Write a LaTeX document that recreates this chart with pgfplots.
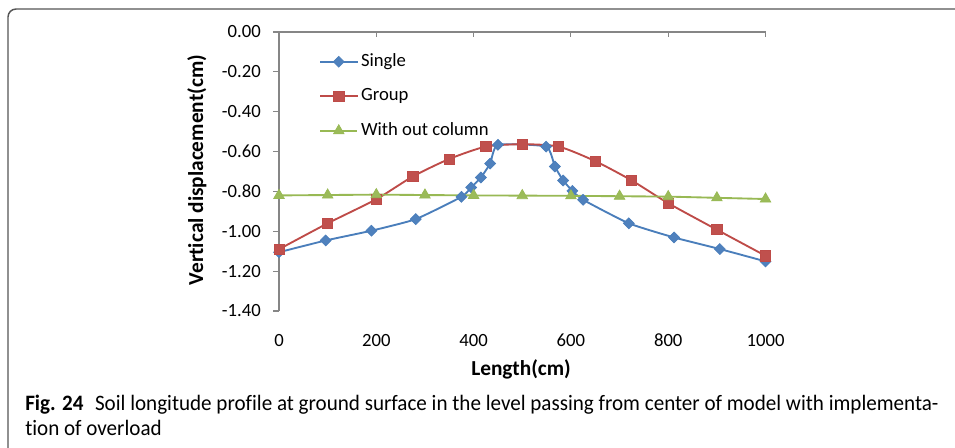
\documentclass[border=0pt]{standalone}
\usepackage{fontspec}
\setmainfont{Carlito}[Ligatures=NoCommon]
\usepackage{graphicx}
\usepackage{pgfplots}
\pgfplotsset{compat=1.18}

\definecolor{sblue}{HTML}{4A7EBB}
\definecolor{sbluef}{HTML}{4F81BD}
\definecolor{gred}{HTML}{BE4B48}
\definecolor{gredf}{HTML}{C0504D}
\definecolor{ngreen}{HTML}{98B954}
\definecolor{ngreenf}{HTML}{9BBB59}
\definecolor{axgray}{HTML}{868686}
\definecolor{framegray}{HTML}{555555}

\newsavebox\capbox
\newlength\capw

\begin{document}
\sbox\capbox{\fontsize{16.5}{20}\selectfont\textbf{Fig. 24}\hspace{0.55em}Soil longitude profile at ground surface in the level passing from center of model with implementa-}%
\setlength\capw{\wd\capbox}%
\pgfmathsetmacro\capfac{685/\capw}%
\begin{tikzpicture}
\begin{scope}[x=0.75pt,y=-0.75pt]
\useasboundingbox (0,0) rectangle (955,447);
% outer frame
\draw[framegray, line width=1.1pt, rounded corners=6pt] (8,470) -- (8,9) -- (980,9);
% caption
\node[anchor=base west, inner sep=0pt] at (25,410)
  {\scalebox{\capfac}[1]{\usebox\capbox}};
\node[anchor=base west, inner sep=0pt] at (25,435)
  {\scalebox{\capfac}[1]{\fontsize{16.5}{20}\selectfont tion of overload}};
\end{scope}

\begin{axis}[
  at={(209.25pt,-233.25pt)}, anchor=south west,
  scale only axis, width=364.9pt, height=209.25pt,
  xmin=0, xmax=1000, ymin=-1.4, ymax=0,
  clip=false,
  axis y line=left, axis x line=bottom,
  axis line style={-, axgray, line width=0.8pt},
  x axis line style={draw=none},
  xtick style={draw=none},
  ytick style={axgray, line width=0.8pt},
  tick align=outside, major tick length=4.5pt,
  xtick={0,200,400,600,800,1000},
  xticklabels={0,200,400,600,800,1000},
  ytick={-1.4,-1.2,-1,-0.8,-0.6,-0.4,-0.2,0},
  yticklabels={-1.40,-1.20,-1.00,-0.80,-0.60,-0.40,-0.20,0.00},
  tick label style={font=\fontsize{14}{16}\selectfont, text=black},
  yticklabel style={inner sep=0pt, anchor=east, xshift=-9pt},
  xticklabel style={inner sep=0pt, anchor=north, yshift=-12.5pt},
  xlabel={Length(cm)},
  ylabel={Vertical displacement(cm)},
  xlabel style={font=\bfseries\fontsize{16}{18}\selectfont, at={(axis description cs:0.4975,-0.211)}, anchor=center},
  ylabel style={font=\bfseries\fontsize{16}{18}\selectfont, at={(axis description cs:-0.1686,0.505)}, anchor=center},
  legend cell align=left,
  legend style={draw=none, fill=none, inner sep=0pt,
    at={(rel axis cs:0.082,0.935)}, anchor=north west,
    font=\fontsize{14}{16}\selectfont, row sep=8.9pt,
    nodes={text height=10pt, text depth=3pt, inner sep=2pt}},
  legend image code/.code={\draw[#1, mark repeat=2, mark phase=2] plot coordinates {(0pt,0pt) (14pt,0pt) (28pt,0pt)};},
  every axis plot/.append style={line width=1.4pt},
]
% top reference line with inward ticks
\draw[axgray, line width=0.8pt] (axis cs:0,0) -- (axis cs:1000,0);
\pgfplotsinvokeforeach{200,400,600,800,1000}{
  \draw[axgray, line width=0.8pt] (axis cs:#1,0) -- ++(0pt,-4pt);
}

\addplot[sblue, smooth, tension=0.3, mark=square*, mark size=2.9pt,
  mark options={rotate=45, fill=sbluef, draw=sblue, line width=0.5pt}]
  coordinates {
  (0,-1.105) (96,-1.046) (190,-0.997) (281,-0.939) (375,-0.827)
  (395,-0.780) (415,-0.730) (434,-0.660) (450,-0.566) (549,-0.575)
  (567,-0.675) (584,-0.745) (603,-0.797) (625,-0.842) (719,-0.960)
  (812,-1.031) (906,-1.089) (1000,-1.151)
  };
\addlegendentry{Single}

\addplot[gred, smooth, tension=0.4, mark=square*, mark size=3.8pt,
  mark options={fill=gredf, draw=gred, line width=0.5pt}]
  coordinates {
  (0,-1.090) (100,-0.960) (200,-0.839) (275,-0.725) (350,-0.637)
  (425,-0.575) (500,-0.563) (575,-0.575) (650,-0.648) (725,-0.745)
  (800,-0.859) (900,-0.992) (1000,-1.123)
  };
\addlegendentry{Group}

\addplot[ngreen, mark=triangle*, mark size=4.6pt,
  mark options={fill=ngreenf, draw=ngreen, line width=0.5pt}]
  coordinates {
  (0,-0.820) (100,-0.818) (200,-0.816) (300,-0.818) (400,-0.820)
  (500,-0.821) (600,-0.822) (700,-0.824) (800,-0.826) (900,-0.832)
  (1000,-0.838)
  };
\addlegendentry{With out column}
\end{axis}
\end{tikzpicture}
\end{document}
